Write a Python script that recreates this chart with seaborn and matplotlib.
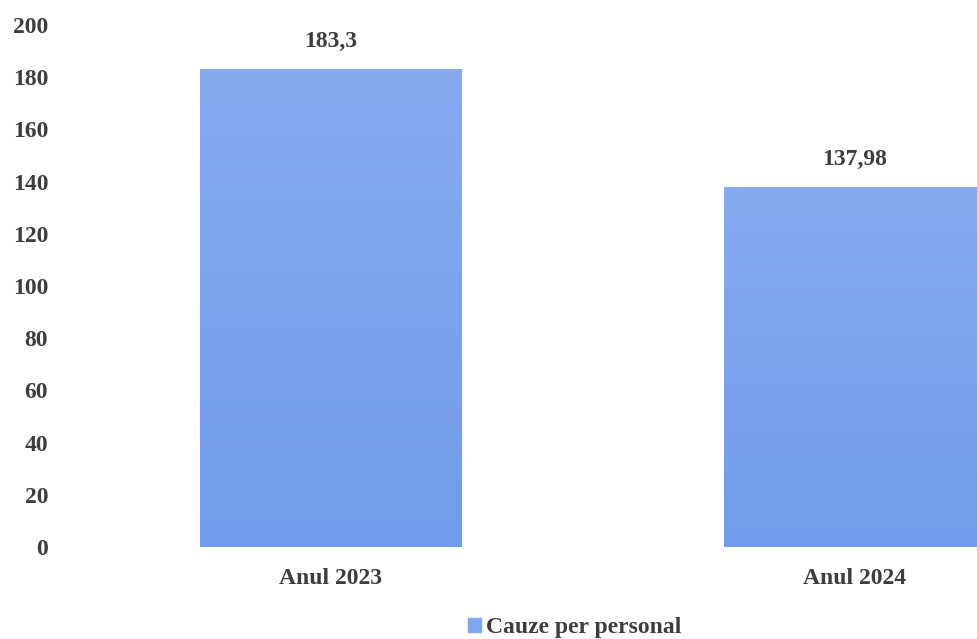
import numpy as np
import pandas as pd
import seaborn as sns
import matplotlib.pyplot as plt
from matplotlib.patches import Patch
from matplotlib.colors import LinearSegmentedColormap

# date grafic
ani = ["Anul 2023", "Anul 2024"]
valori = [183.3, 137.98]
etichete = ["183,3", "137,98"]
serie = "Cauze per personal"

df = pd.DataFrame({"an": ani, "valoare": valori, "serie": serie})

sns.set_theme(style="white")
plt.rcParams['font.family'] = ['Liberation Serif', 'DejaVu Serif']
plt.rcParams['font.weight'] = 'bold'

culoare = "#7fa6ee"
sus, jos = "#86aaf0", "#729ce9"
text_col = "#3d3d3d"
fs = 17

fig = plt.figure(figsize=(9.78, 6.39), dpi=100)
ax = fig.add_axes([69 / 978, 1 - 547 / 639, 909 / 978, 522 / 639])

sns.barplot(data=df, x="an", y="valoare", color=culoare, width=0.5,
            saturation=1, ax=ax)

# gradient usor pe bare
cmap = LinearSegmentedColormap.from_list("g", [jos, sus])
grad = np.linspace(0, 1, 256).reshape(-1, 1)
for p in ax.patches:
    x0, y0 = p.get_x(), p.get_y()
    w, h = p.get_width(), p.get_height()
    im = ax.imshow(grad, cmap=cmap, aspect="auto", origin="lower",
                   extent=[x0, x0 + w, y0, y0 + h], zorder=p.get_zorder() + 0.1)
    im.set_clip_path(p)

ax.set_xlim(-0.5, 1.235)
ax.set_ylim(0, 200)
ax.set_yticks(np.arange(0, 201, 20))
ax.set_xlabel("")
ax.set_ylabel("")
for s in ax.spines.values():
    s.set_visible(False)
ax.tick_params(axis="y", length=0, pad=15, labelsize=fs, labelcolor=text_col)
ax.tick_params(axis="x", length=0, pad=15, labelsize=fs, labelcolor=text_col)
for lbl in ax.get_yticklabels() + ax.get_xticklabels():
    lbl.set_fontweight("bold")

for i, (v, t) in enumerate(zip(valori, etichete)):
    ax.annotate(t, (i, v), xytext=(0, 12), textcoords="offset points",
                ha="center", va="bottom", fontsize=fs, fontweight="bold",
                color=text_col)

fig.legend(handles=[Patch(color=culoare, label=serie)], loc="center",
           bbox_to_anchor=(575 / 978, 1 - 628 / 639), frameon=False,
           handlelength=0.55, handleheight=0.55, handletextpad=0.2,
           prop={"size": fs, "weight": "bold"}, labelcolor=text_col)

fig.savefig("out.png", dpi=100)
